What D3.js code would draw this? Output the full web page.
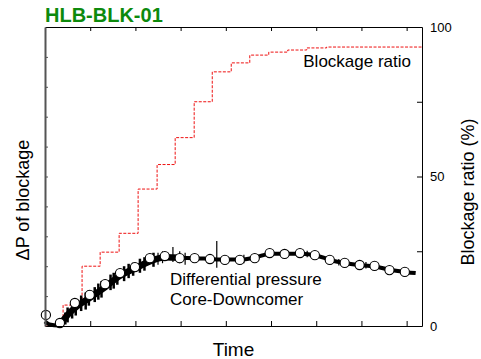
<!DOCTYPE html>
<html lang="en">
<head>
<meta charset="UTF-8">
<title>HLB-BLK-01</title>
<script src="https://cdn.jsdelivr.net/npm/d3@7"></script>
<style>
  body { margin: 0; background: #fff; }
  text { font-family: "Liberation Sans", Arial, sans-serif; }
  .axis path, .axis line { stroke: #000; }
  .axis-left path, .axis-left line { stroke: #555; }
</style>
</head>
<body>
<div id="container"></div>
<script>
// blockage ratio steps (time, %)
var stepTimes  = [0, 0.40, 0.82, 1.22, 1.64, 2.06, 2.48, 2.88, 3.30, 3.70, 4.12, 4.53, 4.95, 5.37, 5.79, 6.23, 8.34];
var stepValues = [0, 7, 20, 24.7, 31, 45.8, 54, 63, 75, 85, 88, 90.6, 91.6, 92.3, 93, 93.3, 93.3];

// differential pressure trace (time, arbitrary units)
var dpTimes  = [0, 0.1, 0.3, 0.4, 0.55, 0.7, 1.0, 1.33, 1.66, 2.0, 2.33, 2.66, 3.0, 3.33, 3.66, 4.0, 4.33, 4.66, 5.0, 5.33, 5.66, 6.0, 6.33, 6.66, 7.0, 7.33, 7.66, 8.0, 8.2];
var dpValues = [0.15, 0.05, 0.02, 0.18, 0.45, 0.65, 0.95, 1.3, 1.68, 1.93, 2.17, 2.3, 2.28, 2.27, 2.24, 2.22, 2.22, 2.3, 2.42, 2.42, 2.42, 2.36, 2.2, 2.1, 2.03, 1.98, 1.87, 1.8, 1.77];

// open circle markers
var markTimes  = [0.02, 0.33, 0.66, 0.99, 1.33, 1.66, 1.99, 2.32, 2.65, 2.98, 3.31, 3.65, 3.98, 4.31, 4.64, 4.97, 5.30, 5.64, 5.97, 6.30, 6.63, 6.96, 7.29, 7.62, 7.96];
var markValues = [0.37, 0.10, 0.77, 1.04, 1.40, 1.77, 1.97, 2.27, 2.34, 2.27, 2.27, 2.24, 2.21, 2.21, 2.27, 2.44, 2.41, 2.44, 2.37, 2.21, 2.11, 2.04, 2.01, 1.87, 1.81];

// noise spikes on the trace (time, low, high)
var spikeTimes = [0.45, 0.5, 0.6, 0.68, 0.8, 0.9, 0.97, 1.1, 1.18, 1.25, 1.45, 1.52, 1.6, 1.75, 1.85, 1.95, 2.1, 2.2, 2.4,
                  2.5, 2.6, 2.83, 2.98, 3.1, 3.8, 4.4, 5.0, 5.8, 6.5, 7.1];
var spikeLow   = [0.05, 0.12, 0.25, 0.35, 0.5, 0.55, 0.68, 0.8, 0.88, 0.95, 1.2, 1.25, 1.38, 1.5, 1.6, 1.68, 1.78, 1.85, 1.98,
                  2.05, 2.1, 2.14, 2.1, 2.05, 1.95, 2.1, 2.3, 2.3, 2.02, 1.92];
var spikeHigh  = [0.45, 0.62, 0.8, 0.9, 1.02, 1.12, 1.2, 1.3, 1.42, 1.5, 1.72, 1.78, 1.85, 2.0, 2.08, 2.12, 2.25, 2.3, 2.45,
                  2.45, 2.5, 2.64, 2.5, 2.45, 2.84, 2.38, 2.55, 2.52, 2.24, 2.14];

var width = 481, height = 359;
var plot = { left: 45, right: 422, top: 27, bottom: 326 };

var svg = d3.select("#container").append("svg")
  .attr("width", width)
  .attr("height", height);

var x = d3.scaleLinear().domain([0, 8.34]).range([plot.left, plot.right]);
var yL = d3.scaleLinear().domain([0, 10]).range([plot.bottom, plot.top]);
var yR = d3.scaleLinear().domain([0, 100]).range([plot.bottom, plot.top]);

// red step line
var stepData = stepTimes.map(function(t, i) { return [t, stepValues[i]]; });
svg.append("path")
  .datum(stepData)
  .attr("fill", "none")
  .attr("stroke", "#ee1111")
  .attr("stroke-width", 1)
  .attr("stroke-dasharray", "3,1.5")
  .attr("d", d3.line()
    .x(function(d) { return x(d[0]); })
    .y(function(d) { return yR(d[1]); })
    .curve(d3.curveStepAfter));

// black trace
var dpData = dpTimes.map(function(t, i) { return [t, dpValues[i]]; });
var dpLine = d3.line()
  .x(function(d) { return x(d[0]); })
  .y(function(d) { return yL(d[1]); })
  .curve(d3.curveMonotoneX);

svg.append("path")
  .datum(dpData)
  .attr("fill", "none")
  .attr("stroke", "#000")
  .attr("stroke-width", 4)
  .attr("d", dpLine);

svg.append("path")
  .datum(dpData.filter(function(d) { return d[0] >= 0.4 && d[0] <= 3.0; }))
  .attr("fill", "none")
  .attr("stroke", "#000")
  .attr("stroke-width", 6.5)
  .attr("d", dpLine);

svg.selectAll(".spike")
  .data(spikeTimes)
  .enter().append("line")
  .attr("class", "spike")
  .attr("x1", function(d) { return x(d); })
  .attr("x2", function(d) { return x(d); })
  .attr("y1", function(d, i) { return yL(spikeLow[i]); })
  .attr("y2", function(d, i) { return yL(spikeHigh[i]); })
  .attr("stroke", "#000")
  .attr("stroke-width", function(d) { return d < 2.45 ? 2.5 : 1.2; });

svg.selectAll(".mark")
  .data(markTimes)
  .enter().append("circle")
  .attr("class", "mark")
  .attr("cx", function(d) { return x(d); })
  .attr("cy", function(d, i) { return yL(markValues[i]); })
  .attr("r", 4.6)
  .attr("fill", "#fff")
  .attr("stroke", "#000")
  .attr("stroke-width", 1.1);

// axes
var ticksX = d3.range(1, 9);
svg.append("g")
  .attr("class", "axis")
  .attr("transform", "translate(0," + plot.bottom + ")")
  .call(d3.axisBottom(x).tickValues(ticksX).tickSizeInner(-5).tickSizeOuter(0).tickFormat(""));

svg.append("g")
  .attr("class", "axis")
  .attr("transform", "translate(0," + plot.top + ")")
  .call(d3.axisTop(x).tickValues(ticksX).tickSizeInner(-4).tickSizeOuter(0).tickFormat(""));

svg.append("g")
  .attr("class", "axis axis-left")
  .attr("transform", "translate(" + plot.left + ",0)")
  .call(d3.axisLeft(yL).tickValues(d3.range(1, 10)).tickSizeInner(-3).tickSizeOuter(0).tickFormat(""))
  .select(".domain").attr("stroke-width", 2);

var right = svg.append("g")
  .attr("class", "axis")
  .attr("transform", "translate(" + plot.right + ",0)")
  .call(d3.axisRight(yR).tickValues([0, 25, 50, 75, 100]).tickSizeInner(-5).tickSizeOuter(0)
    .tickPadding(8)
    .tickFormat(function(d) { return d % 50 === 0 ? d : ""; }));
right.selectAll("text")
  .attr("font-family", "Liberation Sans, Arial, sans-serif")
  .attr("font-size", 13)
  .attr("fill", "#000");

// labels
svg.append("text")
  .attr("x", plot.left)
  .attr("y", 22)
  .attr("font-size", 20)
  .attr("font-weight", "bold")
  .attr("fill", "#0d8a0d")
  .text("HLB-BLK-01");

svg.append("text")
  .attr("x", (plot.left + plot.right) / 2)
  .attr("y", 356)
  .attr("text-anchor", "middle")
  .attr("font-size", 19)
  .text("Time");

svg.append("text")
  .attr("transform", "translate(29,200) rotate(-90)")
  .attr("text-anchor", "middle")
  .attr("font-size", 18)
  .text("ΔP of blockage");

svg.append("text")
  .attr("transform", "translate(474,192) rotate(-90)")
  .attr("text-anchor", "middle")
  .attr("font-size", 18)
  .text("Blockage ratio (%)");

svg.append("text")
  .attr("x", 411)
  .attr("y", 67)
  .attr("text-anchor", "end")
  .attr("font-size", 17)
  .text("Blockage ratio");

svg.append("text")
  .attr("x", 170)
  .attr("y", 285)
  .attr("font-size", 17)
  .text("Differential pressure");

svg.append("text")
  .attr("x", 170)
  .attr("y", 305)
  .attr("font-size", 17)
  .text("Core-Downcomer");
</script>
</body>
</html>
